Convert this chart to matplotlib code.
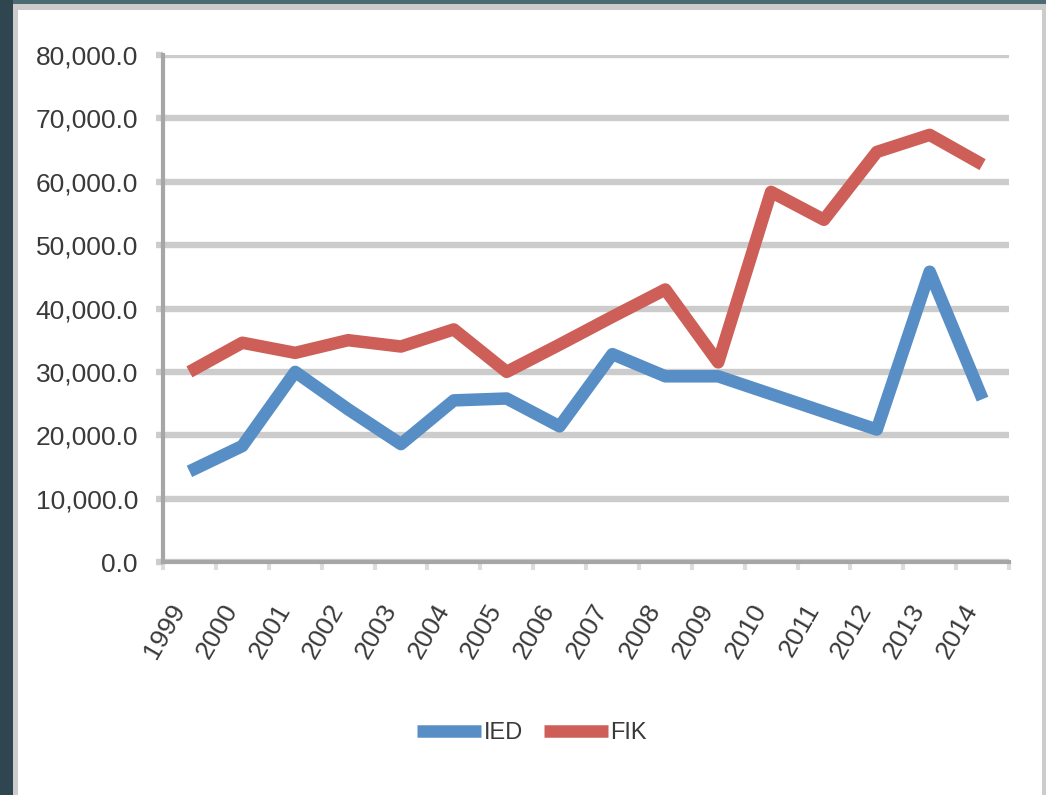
import matplotlib
matplotlib.use('Agg')
import matplotlib.pyplot as plt
from matplotlib.patches import Rectangle
from matplotlib.ticker import FuncFormatter, FixedLocator

plt.rcParams['font.family'] = ['Liberation Sans', 'DejaVu Sans']

years = ['1999', '2000', '2001', '2002', '2003', '2004', '2005', '2006',
         '2007', '2008', '2009', '2010', '2011', '2012', '2013', '2014']
ied = [14300, 18300, 30000, 24100, 18600, 25500, 25800, 21400,
       32800, 29300, 29300, 26500, 23700, 20900, 45800, 25700]
fik = [30000, 34600, 33000, 35000, 34000, 36700, 30000, 34300,
       38700, 43000, 31500, 58400, 54000, 64700, 67400, 62700]
series_names = ['IED', 'FIK']
series_colors = ['#588ec6', '#cd5f58']

W, H = 1046, 795
fig = plt.figure(figsize=(W / 100, H / 100), dpi=100)
fig.patch.set_facecolor('#cccccc')

# slide background + white chart panel
fig.add_artist(Rectangle((0, 1 - 4 / H), 1, 4 / H, transform=fig.transFigure,
                         facecolor='#4c6a73', edgecolor='none', zorder=0))
fig.add_artist(Rectangle((0, 0), 13 / W, 1, transform=fig.transFigure,
                         facecolor='#2f4650', edgecolor='none', zorder=0))
fig.add_artist(Rectangle((18 / W, 0), (1042 - 18) / W, (H - 10) / H,
                         transform=fig.transFigure, facecolor='white',
                         edgecolor='none', zorder=0))

ax = fig.add_axes([163 / W, (H - 562) / H, (1009 - 163) / W, (562 - 55) / H])
ax.set_facecolor('white')

x = list(range(len(years)))
for vals, name, col in zip([ied, fik], series_names, series_colors):
    ax.plot(x, vals, color=col, linewidth=9, label=name,
            solid_joinstyle='round', solid_capstyle='butt', zorder=3)

ax.set_xlim(-0.5, len(years) - 0.5)
ax.set_ylim(0, 80000)
ax.set_yticks(range(0, 80001, 10000))
ax.yaxis.set_major_formatter(FuncFormatter(lambda v, p: '{:,.1f}'.format(v)))
ax.grid(axis='y', color='#cccccc', linewidth=4.6, zorder=1)
ax.set_axisbelow(True)

ax.set_xticks(x)
ax.set_xticklabels(years, rotation=60, ha='right', va='top')
ax.xaxis.set_minor_locator(FixedLocator([i - 0.5 for i in range(len(years) + 1)]))

ax.tick_params(axis='y', length=5, width=4.6, color='#cccccc', pad=13,
               labelsize=19, labelcolor='#3a3a3a')
ax.tick_params(axis='x', which='major', length=0, pad=27,
               labelsize=19, labelcolor='#3a3a3a')
ax.tick_params(axis='x', which='minor', length=6, width=3, color='#dcdcdc')

for s in ['top', 'right']:
    ax.spines[s].set_visible(False)
for s in ['left', 'bottom']:
    ax.spines[s].set_color('#a6a6a6')
    ax.spines[s].set_linewidth(3)
    ax.spines[s].set_zorder(2)

fig.legend(loc='center', bbox_to_anchor=(532 / W, (H - 733) / H),
           ncol=2, frameon=False, fontsize=17, handlelength=2.7,
           handletextpad=0.1, columnspacing=0.9, labelcolor='#3a3a3a')

fig.savefig('out.png', dpi=100, facecolor=fig.get_facecolor())
